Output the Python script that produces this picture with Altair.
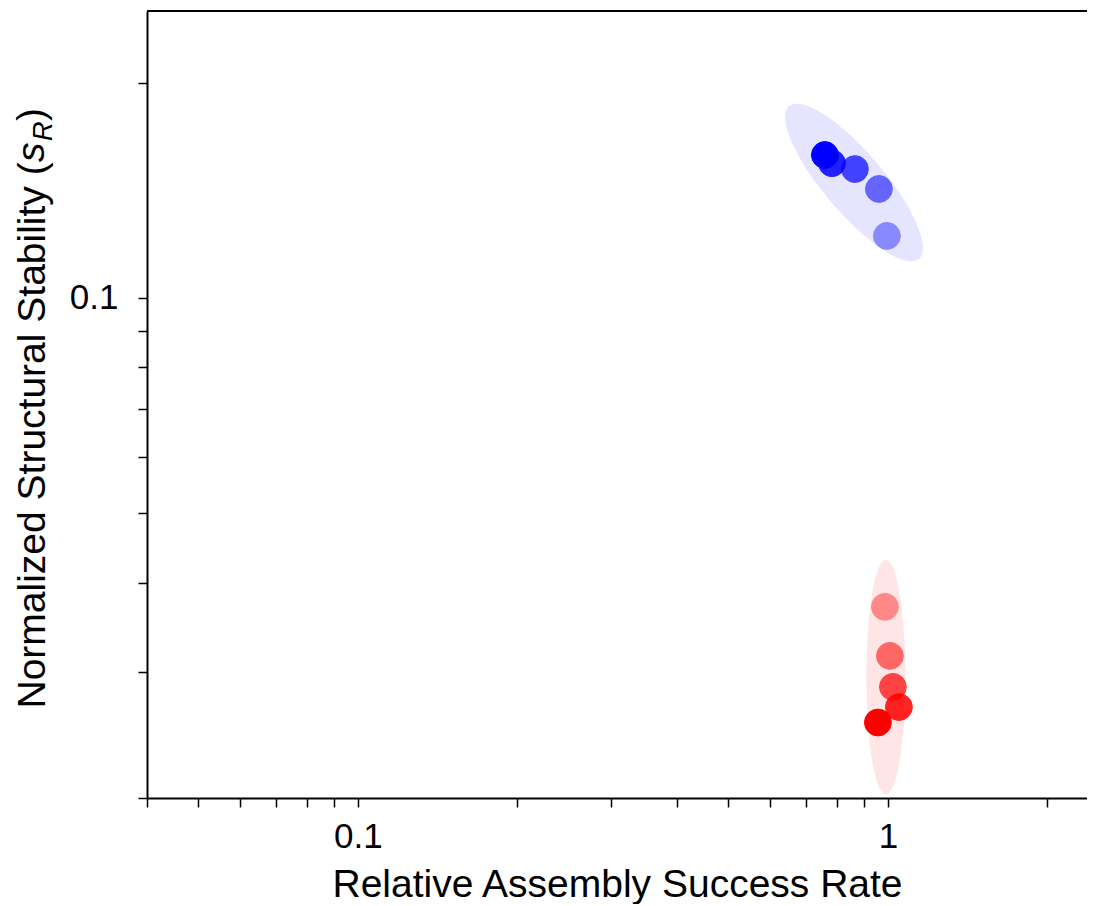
import altair as alt
import numpy as np
import pandas as pd

# ---------------- data ----------------
point_group = ["A", "A", "A", "A", "A", "B", "B", "B", "B", "B"]
success_rate = [0.9957, 0.9617, 0.8664, 0.7843, 0.7606, 0.987, 1.0087, 1.022, 1.049, 0.9575]
stability = [0.1221, 0.1420, 0.1514, 0.1543, 0.1584, 0.0370, 0.0316, 0.0286, 0.0268, 0.0255]
step = [1, 2, 3, 4, 5, 1, 2, 3, 4, 5]

# ellipses (defined in log10 space: centre + two conjugate half-axis vectors)
ell_group = ["A", "B"]
ell_center_rate = [0.863, 0.9913]
ell_center_stab = [0.1450, 0.02951]
ell_axis1_dlog = [[0.1226, -0.1068], [0.0, 0.1641]]
ell_axis2_dlog = [[0.0433, 0.0272], [0.0368, 0.0]]

group_domain = ["A", "B"]
group_colors = ["#0000ff", "#ff0000"]

x_ticks = [0.04, 0.05, 0.06, 0.07, 0.08, 0.09, 0.1, 0.2, 0.3, 0.4, 0.5, 0.6, 0.7, 0.8, 0.9, 1, 2]
y_ticks = [0.02, 0.03, 0.04, 0.05, 0.06, 0.07, 0.08, 0.09, 0.1, 0.2]

# ---------------- tables ----------------
pts = pd.DataFrame({"group": point_group, "rate": success_rate,
                    "stab": stability, "step": step})

rows = []
t = np.linspace(0, 2 * np.pi, 181)
for g, cx, cy, a1, a2 in zip(ell_group, ell_center_rate, ell_center_stab,
                             ell_axis1_dlog, ell_axis2_dlog):
    lx = np.log10(cx) + a1[0] * np.cos(t) + a2[0] * np.sin(t)
    ly = np.log10(cy) + a1[1] * np.cos(t) + a2[1] * np.sin(t)
    for i, (u, v) in enumerate(zip(lx, ly)):
        rows.append({"group": g, "idx": i, "rate": 10 ** u, "stab": 10 ** v})
ell = pd.DataFrame(rows)

W, H = 940, 787
FONT = "Liberation Sans"

xscale = alt.Scale(type="log", domain=[0.04, 2.375], nice=False)
yscale = alt.Scale(type="log", domain=[0.02, 0.2518], nice=False)
cscale = alt.Scale(domain=group_domain, range=group_colors)

xaxis = alt.Axis(
    values=x_ticks,
    labelExpr="datum.value == 1 ? '1' : (datum.value == 0.1 ? '0.1' : '')",
    title="Relative Assembly Success Rate",
    titleFontSize=39, titleFontWeight="normal", titleColor="black",
    titleBaseline="alphabetic", titleY=98,
    labelFontSize=35, labelColor="black", labelPadding=12,
    labelFlush=False, labelOverlap=False,
    tickSize=9, tickWidth=1.5, tickColor="black",
    domainColor="black", domainWidth=2, grid=False,
)
yaxis = alt.Axis(
    values=y_ticks,
    labelExpr="datum.value == 0.1 ? '0.1' : ''",
    title="Normalized Structural Stability (",
    titleFontSize=39, titleFontWeight="normal", titleColor="black",
    titleAngle=270, titleAlign="left", titleBaseline="alphabetic",
    titleX=-103, titleY=697,
    labelFontSize=35, labelColor="black", labelPadding=20,
    labelFlush=False, labelOverlap=False,
    tickSize=9, tickWidth=1.5, tickColor="black",
    domainColor="black", domainWidth=2, grid=False,
)

ellipses = alt.Chart(ell).mark_line(filled=True, opacity=0.1, strokeWidth=0).encode(
    x=alt.X("rate:Q", scale=xscale, axis=xaxis),
    y=alt.Y("stab:Q", scale=yscale, axis=yaxis),
    color=alt.Color("group:N", scale=cscale, legend=None),
    order="idx:Q",
)

points = alt.Chart(pts).mark_circle(size=720, strokeWidth=1).encode(
    x=alt.X("rate:Q", scale=xscale),
    y=alt.Y("stab:Q", scale=yscale),
    color=alt.Color("group:N", scale=cscale, legend=None),
    stroke=alt.Stroke("group:N", scale=cscale, legend=None),
    opacity=alt.Opacity("step:Q", scale=alt.Scale(domain=[1, 5], range=[0.4, 1.0]), legend=None),
    order="step:Q",
)

one = pd.DataFrame({"k": [0]})
top_spine = alt.Chart(one).mark_rule(color="black", strokeWidth=2).encode(
    x=alt.value(0), x2=alt.value(W), y=alt.value(0)
)

sym_s = alt.Chart(pd.DataFrame({"t": ["s"]})).mark_text(
    angle=270, align="left", baseline="alphabetic", font=FONT,
    fontSize=39, fontStyle="italic", color="black"
).encode(text="t:N", x=alt.value(-103), y=alt.value(151))

sym_R = alt.Chart(pd.DataFrame({"t": ["R"]})).mark_text(
    angle=270, align="left", baseline="alphabetic", font=FONT,
    fontSize=27, fontStyle="italic", color="black"
).encode(text="t:N", x=alt.value(-95), y=alt.value(130))

sym_close = alt.Chart(pd.DataFrame({"t": [")"]})).mark_text(
    angle=270, align="left", baseline="alphabetic", font=FONT,
    fontSize=39, color="black"
).encode(text="t:N", x=alt.value(-103), y=alt.value(110))

chart = alt.layer(ellipses, points, top_spine, sym_s, sym_R, sym_close).properties(
    width=W, height=H,
    autosize=alt.AutoSizeParams(type="none"),
    padding={"left": 139, "top": 3, "right": 0, "bottom": 106},
).configure(font=FONT).configure_view(strokeWidth=0)

chart.save("out.html", embed_options={"renderer": "svg", "actions": False})
